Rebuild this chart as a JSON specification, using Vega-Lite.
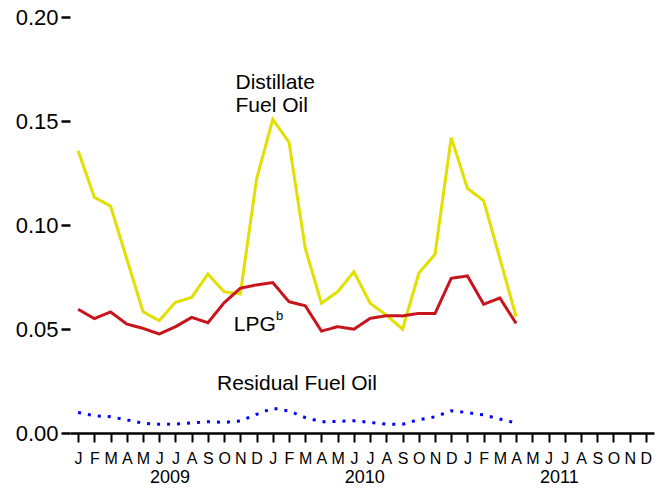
{
  "$schema": "https://vega.github.io/schema/vega-lite/v6.json",
  "autosize": {"type": "none"},
  "padding": {"left": 70, "top": 17, "right": 11, "bottom": 56},
  "width": 584,
  "height": 416,
  "config": {
    "view": {"stroke": null},
    "font": "Liberation Sans",
    "axis": {"grid": false, "labelFont": "Liberation Sans", "labelColor": "#000", "tickColor": "#000", "domainColor": "#000"}
  },
  "datasets": {
    "series": [
      {"m":0,"s":"Distillate","v":0.1357},{"m":1,"s":"Distillate","v":0.1133},{"m":2,"s":"Distillate","v":0.1091},{"m":3,"s":"Distillate","v":0.0837},
      {"m":4,"s":"Distillate","v":0.0583},{"m":5,"s":"Distillate","v":0.0540},{"m":6,"s":"Distillate","v":0.0628},{"m":7,"s":"Distillate","v":0.0652},
      {"m":8,"s":"Distillate","v":0.0764},{"m":9,"s":"Distillate","v":0.0679},{"m":10,"s":"Distillate","v":0.0668},{"m":11,"s":"Distillate","v":0.1221},
      {"m":12,"s":"Distillate","v":0.1508},{"m":13,"s":"Distillate","v":0.1398},{"m":14,"s":"Distillate","v":0.0888},{"m":15,"s":"Distillate","v":0.0624},
      {"m":16,"s":"Distillate","v":0.0679},{"m":17,"s":"Distillate","v":0.0775},{"m":18,"s":"Distillate","v":0.0624},{"m":19,"s":"Distillate","v":0.0567},
      {"m":20,"s":"Distillate","v":0.0499},{"m":21,"s":"Distillate","v":0.0768},{"m":22,"s":"Distillate","v":0.0859},{"m":23,"s":"Distillate","v":0.1420},
      {"m":24,"s":"Distillate","v":0.1176},{"m":25,"s":"Distillate","v":0.1117},{"m":26,"s":"Distillate","v":0.0838},{"m":27,"s":"Distillate","v":0.0559},
      {"m":0,"s":"LPG","v":0.0595},{"m":1,"s":"LPG","v":0.0550},{"m":2,"s":"LPG","v":0.0582},{"m":3,"s":"LPG","v":0.0524},
      {"m":4,"s":"LPG","v":0.0503},{"m":5,"s":"LPG","v":0.0476},{"m":6,"s":"LPG","v":0.0511},{"m":7,"s":"LPG","v":0.0556},
      {"m":8,"s":"LPG","v":0.0530},{"m":9,"s":"LPG","v":0.0626},{"m":10,"s":"LPG","v":0.0696},{"m":11,"s":"LPG","v":0.0712},
      {"m":12,"s":"LPG","v":0.0723},{"m":13,"s":"LPG","v":0.0631},{"m":14,"s":"LPG","v":0.0612},{"m":15,"s":"LPG","v":0.0490},
      {"m":16,"s":"LPG","v":0.0511},{"m":17,"s":"LPG","v":0.0499},{"m":18,"s":"LPG","v":0.0551},{"m":19,"s":"LPG","v":0.0564},
      {"m":20,"s":"LPG","v":0.0563},{"m":21,"s":"LPG","v":0.0575},{"m":22,"s":"LPG","v":0.0574},{"m":23,"s":"LPG","v":0.0744},
      {"m":24,"s":"LPG","v":0.0755},{"m":25,"s":"LPG","v":0.0619},{"m":26,"s":"LPG","v":0.0649},{"m":27,"s":"LPG","v":0.0527},
      {"m":0,"s":"Residual","v":0.0099},{"m":1,"s":"Residual","v":0.0083},{"m":2,"s":"Residual","v":0.0078},{"m":3,"s":"Residual","v":0.0063},
      {"m":4,"s":"Residual","v":0.0047},{"m":5,"s":"Residual","v":0.0042},{"m":6,"s":"Residual","v":0.0043},{"m":7,"s":"Residual","v":0.0048},
      {"m":8,"s":"Residual","v":0.0054},{"m":9,"s":"Residual","v":0.0051},{"m":10,"s":"Residual","v":0.0058},{"m":11,"s":"Residual","v":0.0090},
      {"m":12,"s":"Residual","v":0.0119},{"m":13,"s":"Residual","v":0.0106},{"m":14,"s":"Residual","v":0.0074},{"m":15,"s":"Residual","v":0.0054},
      {"m":16,"s":"Residual","v":0.0056},{"m":17,"s":"Residual","v":0.0059},{"m":18,"s":"Residual","v":0.0051},{"m":19,"s":"Residual","v":0.0043},
      {"m":20,"s":"Residual","v":0.0042},{"m":21,"s":"Residual","v":0.0064},{"m":22,"s":"Residual","v":0.0078},{"m":23,"s":"Residual","v":0.0107},
      {"m":24,"s":"Residual","v":0.0098},{"m":25,"s":"Residual","v":0.0087},{"m":26,"s":"Residual","v":0.0067},{"m":27,"s":"Residual","v":0.0048}
    ],
    "labels": [
      {"m":9.7,"v":0.1683,"t":"Distillate"},
      {"m":9.7,"v":0.1572,"t":"Fuel Oil"},
      {"m":9.6,"v":0.0519,"t":"LPG"},
      {"m":8.56,"v":0.0236,"t":"Residual Fuel Oil"}
    ],
    "sup": [
      {"m":12.2,"v":0.0562,"t":"b"}
    ],
    "years": [
      {"m":5.67,"v":-0.0218,"t":"2009"},
      {"m":17.67,"v":-0.0218,"t":"2010"},
      {"m":29.67,"v":-0.0218,"t":"2011"}
    ]
  },
  "encoding": {
    "x": {
      "field": "m", "type": "quantitative",
      "scale": {"domain": [-0.5, 35.5], "nice": false, "zero": false},
      "axis": {
        "title": null,
        "values": [0,1,2,3,4,5,6,7,8,9,10,11,12,13,14,15,16,17,18,19,20,21,22,23,24,25,26,27,28,29,30,31,32,33,34,35],
        "labelExpr": "split('J,F,M,A,M,J,J,A,S,O,N,D', ',')[datum.value % 12]",
        "labelFontSize": 16,
        "labelPadding": 8,
        "tickSize": 9,
        "tickWidth": 2,
        "domainWidth": 2.5,
        "labelFlush": false,
        "labelOverlap": false
      }
    },
    "y": {
      "field": "v", "type": "quantitative",
      "scale": {"domain": [0, 0.2], "nice": false},
      "axis": {
        "title": null,
        "values": [0, 0.05, 0.1, 0.15, 0.2],
        "format": ".2f",
        "domain": false,
        "labelFontSize": 22,
        "labelPadding": 3,
        "tickSize": 9,
        "tickWidth": 2.5
      }
    }
  },
  "layer": [
    {
      "data": {"name": "series"},
      "mark": {"type": "line"},
      "encoding": {
        "color": {
          "field": "s", "type": "nominal", "legend": null,
          "scale": {"domain": ["Distillate", "LPG", "Residual"], "range": ["#e2e000", "#c8141c", "#0000ff"]}
        },
        "strokeDash": {
          "field": "s", "type": "nominal", "legend": null,
          "scale": {"domain": ["Distillate", "LPG", "Residual"], "range": [[1, 0], [1, 0], [3, 7]]}
        },
        "strokeWidth": {
          "field": "s", "type": "nominal", "legend": null,
          "scale": {"domain": ["Distillate", "LPG", "Residual"], "range": [3, 3, 3.5]}
        }
      }
    },
    {
      "data": {"name": "labels"},
      "mark": {"type": "text", "align": "left", "baseline": "middle", "fontSize": 21, "color": "#000"},
      "encoding": {"text": {"field": "t"}}
    },
    {
      "data": {"name": "sup"},
      "mark": {"type": "text", "align": "left", "baseline": "middle", "fontSize": 13, "color": "#000"},
      "encoding": {"text": {"field": "t"}}
    },
    {
      "data": {"name": "years"},
      "mark": {"type": "text", "align": "center", "baseline": "middle", "fontSize": 18, "color": "#000"},
      "encoding": {"text": {"field": "t"}}
    }
  ]
}
